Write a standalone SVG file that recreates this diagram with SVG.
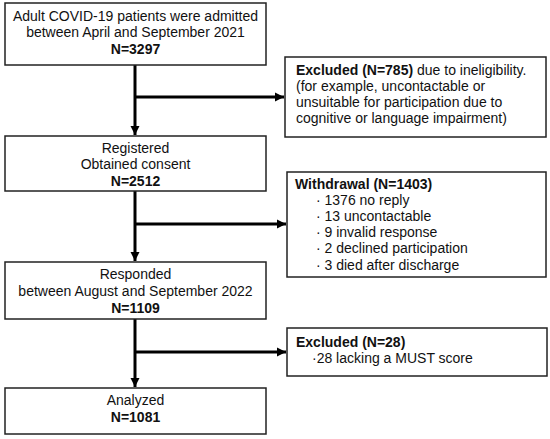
<svg xmlns="http://www.w3.org/2000/svg" width="550" height="439" viewBox="0 0 550 439">
<style>
.box{fill:#fff;stroke:#222;stroke-width:1.5}
text{font-family:"Liberation Sans",Arial,sans-serif;font-size:14px;fill:#111}
.c{text-anchor:middle}
.b{font-weight:bold}
.ln{stroke:#000;stroke-width:3;fill:none}
</style>
<defs>
<marker id="ah" markerUnits="userSpaceOnUse" markerWidth="10" markerHeight="10" refX="9" refY="5" orient="auto">
<path d="M0,0.5 L9,5 L0,9.5 Z" fill="#000"/>
</marker>
</defs>
<rect width="550" height="439" fill="#fff"/>
<g id="connectors">
<line class="ln" x1="135" y1="65" x2="135" y2="135" marker-end="url(#ah)"/>
<line class="ln" x1="135" y1="97" x2="284" y2="97" marker-end="url(#ah)"/>
<line class="ln" x1="135" y1="191" x2="135" y2="261" marker-end="url(#ah)"/>
<line class="ln" x1="135" y1="224" x2="286" y2="224" marker-end="url(#ah)"/>
<line class="ln" x1="135" y1="319" x2="135" y2="387" marker-end="url(#ah)"/>
<line class="ln" x1="135" y1="352" x2="286" y2="352" marker-end="url(#ah)"/>
</g>
<g id="n1">
<rect class="box" x="5" y="3" width="261" height="62"/>
<text class="c" x="135.5" y="21">Adult COVID-19 patients were admitted</text>
<text class="c" x="135.5" y="37">between April and September 2021</text>
<text class="c b" x="135.5" y="54">N=3297</text>
</g>
<g id="n2">
<rect class="box" x="285" y="57" width="261" height="80"/>
<text x="296" y="75"><tspan class="b">Excluded (N=785)</tspan> due to ineligibility.</text>
<text x="296" y="91">(for example, uncontactable or</text>
<text x="296" y="107">unsuitable for participation due to</text>
<text x="296" y="123">cognitive or language impairment)</text>
</g>
<g id="n3">
<rect class="box" x="5" y="136" width="261" height="55"/>
<text class="c" x="135.5" y="153">Registered</text>
<text class="c" x="135.5" y="169">Obtained consent</text>
<text class="c b" x="135.5" y="186">N=2512</text>
</g>
<g id="n4">
<rect class="box" x="287" y="172" width="259" height="105"/>
<text class="b" x="295" y="189">Withdrawal (N=1403)</text>
<text x="316" y="205">· 1376 no reply</text>
<text x="316" y="221">· 13 uncontactable</text>
<text x="316" y="237">· 9 invalid response</text>
<text x="316" y="253">· 2 declined participation</text>
<text x="316" y="270">· 3 died after discharge</text>
</g>
<g id="n5">
<rect class="box" x="5" y="262" width="261" height="57"/>
<text class="c" x="135.5" y="279">Responded</text>
<text class="c" x="135.5" y="296">between August and September 2022</text>
<text class="c b" x="135.5" y="313">N=1109</text>
</g>
<g id="n6">
<rect class="box" x="287" y="328" width="260" height="48"/>
<text class="b" x="296" y="347">Excluded (N=28)</text>
<text x="312" y="363">·28 lacking a MUST score</text>
</g>
<g id="n7">
<rect class="box" x="5" y="388" width="261" height="46"/>
<text class="c" x="135.5" y="405">Analyzed</text>
<text class="c b" x="135.5" y="422">N=1081</text>
</g>
</svg>
